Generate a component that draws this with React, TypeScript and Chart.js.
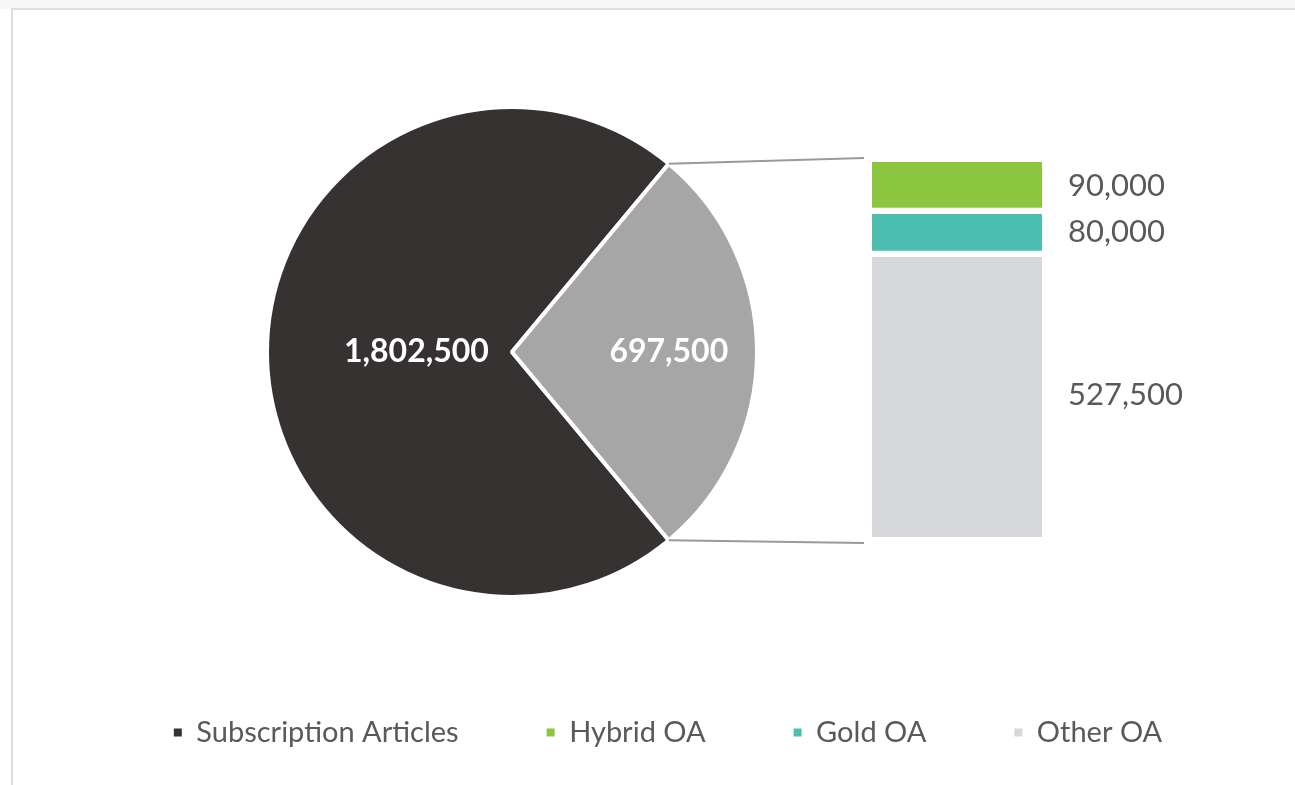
import React, { useEffect, useRef } from 'react';
import { Chart, registerables } from 'chart.js';

Chart.register(...registerables);

// ---- data ----
const pieCategories = ['Subscription Articles', 'Open Access'];
const pieValues = [1802500, 697500];
const pieColors = ['#363232', '#a6a6a6'];

const barCategories = ['Hybrid OA', 'Gold OA', 'Other OA'];
const barValues = [90000, 80000, 527500];
const barColors = ['#8cc63f', '#4dbfb2', '#d6d8db'];

const legendLabels = ['Subscription Articles', 'Hybrid OA', 'Gold OA', 'Other OA'];
const legendColors = ['#363232', '#8cc63f', '#4dbfb2', '#d6d8db'];

const FONT = 'Lato, "Noto Sans", sans-serif';
const fmt = (n: number) => n.toLocaleString('en-US');

export default function App() {
  const pieRef = useRef<HTMLCanvasElement | null>(null);
  const barRef = useRef<HTMLCanvasElement | null>(null);

  useEffect(() => {
    const pieTotal = pieValues.reduce((a, b) => a + b, 0);
    const barTotal = barValues.reduce((a, b) => a + b, 0);

    const pieLabelPlugin = {
      id: 'pieLabels',
      afterDatasetsDraw(chart: any) {
        const ctx = chart.ctx;
        const meta = chart.getDatasetMeta(0);
        const k = [0.39, 0.64];
        ctx.save();
        ctx.fillStyle = '#ffffff';
        ctx.font = `bold 32px ${FONT}`;
        ctx.textAlign = 'center';
        ctx.textBaseline = 'middle';
        meta.data.forEach((arc: any, i: number) => {
          const p = arc.getProps(['x', 'y', 'startAngle', 'endAngle', 'outerRadius'], true);
          const mid = (p.startAngle + p.endAngle) / 2;
          const r = p.outerRadius * k[i];
          ctx.fillText(fmt(pieValues[i]), p.x + Math.cos(mid) * r, p.y + Math.sin(mid) * r);
        });
        ctx.restore();
      },
    };

    const pie = new Chart(pieRef.current as HTMLCanvasElement, {
      type: 'pie',
      data: {
        labels: pieCategories,
        datasets: [
          {
            data: pieValues,
            backgroundColor: pieColors,
            borderColor: '#ffffff',
            borderWidth: 4,
          },
        ],
      },
      options: {
        responsive: false,
        animation: false,
        rotation: 90 + (180 * pieValues[1]) / pieTotal,
        radius: 245,
        layout: { padding: { left: 0, right: 271, top: 0, bottom: 81 } },
        plugins: { legend: { display: false }, tooltip: { enabled: false } },
      } as any,
      plugins: [pieLabelPlugin],
    });

    // bar stacks from bottom: Other, Gold, Hybrid
    const order = [2, 1, 0];
    const borders = [
      { top: 4, bottom: 0, left: 0, right: 0 },
      { top: 4, bottom: 3, left: 0, right: 0 },
      { top: 0, bottom: 3, left: 0, right: 0 },
    ];

    const barPlugin = {
      id: 'barExtras',
      afterDatasetsDraw(chart: any) {
        const ctx = chart.ctx;
        const n = chart.data.datasets.length;
        const topEl = chart.getDatasetMeta(n - 1).data[0].getProps(['x', 'y', 'base', 'width'], true);
        const botEl = chart.getDatasetMeta(0).data[0].getProps(['x', 'y', 'base', 'width'], true);
        const left = topEl.x - topEl.width / 2;
        const right = topEl.x + topEl.width / 2;

        // connector lines from the pie slice to the bar
        const arc = pie.getDatasetMeta(0).data[1] as any;
        const a = arc.getProps(['x', 'y', 'startAngle', 'endAngle', 'outerRadius'], true);
        ctx.save();
        ctx.strokeStyle = '#9a9a9a';
        ctx.lineWidth = 2;
        ctx.beginPath();
        ctx.moveTo(a.x + Math.cos(a.startAngle) * a.outerRadius, a.y + Math.sin(a.startAngle) * a.outerRadius);
        ctx.lineTo(left - 8, topEl.y - 4);
        ctx.moveTo(a.x + Math.cos(a.endAngle) * a.outerRadius, a.y + Math.sin(a.endAngle) * a.outerRadius);
        ctx.lineTo(left - 8, botEl.base + 6);
        ctx.stroke();

        // value labels
        ctx.fillStyle = '#595959';
        ctx.font = `31px ${FONT}`;
        ctx.textAlign = 'left';
        ctx.textBaseline = 'middle';
        chart.data.datasets.forEach((ds: any, di: number) => {
          const el = chart.getDatasetMeta(di).data[0].getProps(['x', 'y', 'base', 'width'], true);
          ctx.fillText(fmt(ds.data[0]), right + 26, (el.y + el.base) / 2);
        });
        ctx.restore();
      },
    };

    const hidden = {
      grid: { display: false },
      ticks: { display: false },
      border: { display: false },
    };

    const bar = new Chart(barRef.current as HTMLCanvasElement, {
      type: 'bar',
      data: {
        labels: ['Open Access'],
        datasets: order.map((i, j) => ({
          label: barCategories[i],
          data: [barValues[i]],
          backgroundColor: barColors[i],
          borderColor: '#ffffff',
          borderWidth: borders[j],
          borderSkipped: false,
          barPercentage: 1,
          categoryPercentage: 1,
          yAxisID: 'y',
        })),
      },
      options: {
        responsive: false,
        animation: false,
        layout: { padding: { left: 41, right: 0, top: 162, bottom: 28 } },
        scales: {
          x: {
            stacked: true,
            ...hidden,
            afterFit: (s: any) => {
              s.height = 93;
            },
          },
          y: {
            stacked: true,
            min: 0,
            max: barTotal,
            position: 'left',
            ...hidden,
            afterFit: (s: any) => {
              s.width = 831;
            },
          },
          yRight: {
            position: 'right',
            min: 0,
            max: barTotal,
            ...hidden,
            afterFit: (s: any) => {
              s.width = 253;
            },
          },
        },
        plugins: {
          tooltip: { enabled: false },
          legend: {
            position: 'bottom',
            align: 'center',
            labels: {
              boxWidth: 8,
              boxHeight: 8,
              padding: 88,
              color: '#595959',
              font: { family: FONT, size: 29 },
              generateLabels: () =>
                legendLabels.map((t, i) => ({
                  text: t,
                  fillStyle: legendColors[i],
                  strokeStyle: legendColors[i],
                  lineWidth: 0,
                  hidden: false,
                  fontColor: '#595959',
                })),
            },
          },
        },
      } as any,
      plugins: [barPlugin],
    });

    return () => {
      bar.destroy();
      pie.destroy();
    };
  }, []);

  return (
    <div
      style={{
        position: 'fixed',
        left: 0,
        top: 0,
        width: 1295,
        height: 785,
        background: '#ffffff',
        overflow: 'hidden',
      }}
    >
      <div style={{ position: 'absolute', left: 0, top: 0, width: 1295, height: 9, background: '#f6f6f6' }} />
      <div
        style={{
          position: 'absolute',
          left: 11,
          top: 8,
          right: -5,
          bottom: -5,
          borderTop: '2px solid #dedede',
          borderLeft: '2px solid #dedede',
        }}
      />
      <canvas ref={pieRef} width={1295} height={785} style={{ position: 'absolute', left: 0, top: 0 }} />
      <canvas ref={barRef} width={1295} height={785} style={{ position: 'absolute', left: 0, top: 0 }} />
    </div>
  );
}
